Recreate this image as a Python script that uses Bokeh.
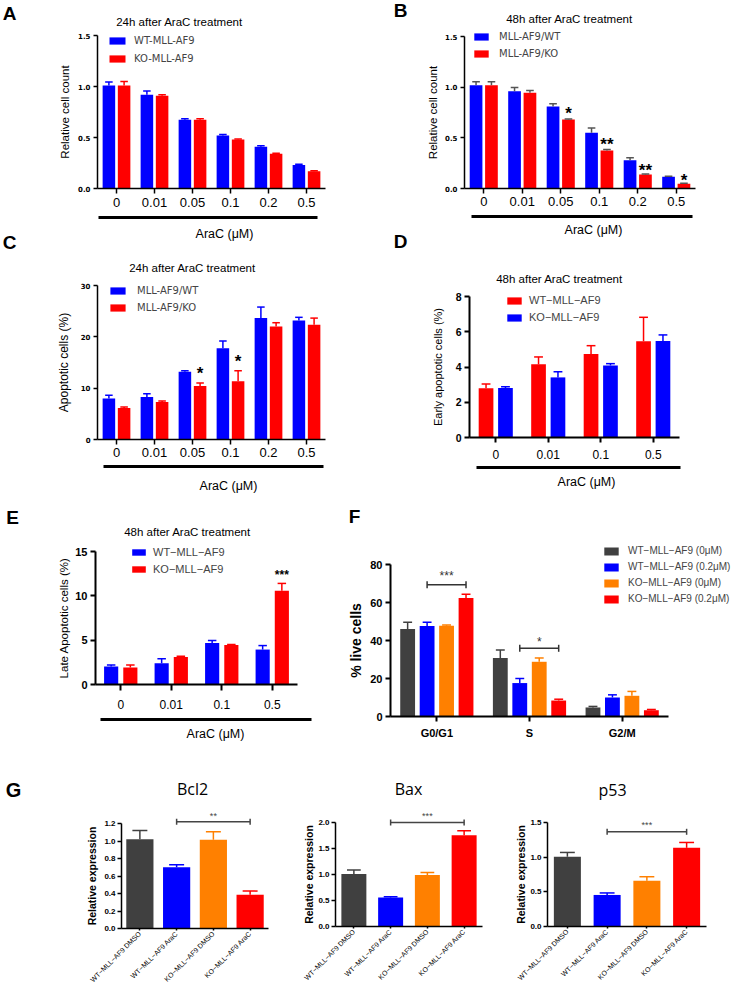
import math
from bokeh.plotting import figure
from bokeh.models import (Range1d, Label, Legend, LegendItem, BoxAnnotation, LinearAxis,
                          FixedTicker, ColumnDataSource, NumeralTickFormatter, Grid)
from bokeh.layouts import column, row
from bokeh.core.properties import value
from bokeh.embed import file_html
from bokeh.resources import INLINE

# ------------------------------------------------------------------ data
# A: 24 h after AraC, relative cell count
a_doses = ["0", "0.01", "0.05", "0.1", "0.2", "0.5"]
a_wt = [1.01, 0.92, 0.675, 0.52, 0.41, 0.23]
a_wt_err = [0.033, 0.036, 0.01, 0.01, 0.01, 0.008]
a_ko = [1.01, 0.91, 0.675, 0.48, 0.34, 0.17]
a_ko_err = [0.04, 0.008, 0.008, 0.005, 0.006, 0.005]
a_yticks = [0, 0.5, 1.0, 1.5]

# B: 48 h after AraC, relative cell count
b_doses = ["0", "0.01", "0.05", "0.1", "0.2", "0.5"]
b_wt = [1.02, 0.96, 0.81, 0.55, 0.28, 0.115]
b_wt_err = [0.033, 0.036, 0.026, 0.046, 0.023, 0.007]
b_ko = [1.02, 0.945, 0.68, 0.374, 0.138, 0.046]
b_ko_err = [0.033, 0.023, 0.007, 0.01, 0.006, 0.006]
b_sig_doses = ["0.05", "0.1", "0.2", "0.5"]
b_sig = ["*", "**", "**", "*"]
b_sig_y = [0.78, 0.475, 0.213, 0.12]
b_yticks = [0, 0.5, 1.0, 1.5]

# C: 24 h, apoptotic cells (%)
c_doses = ["0", "0.01", "0.05", "0.1", "0.2", "0.5"]
c_wt = [8.0, 8.3, 13.2, 17.8, 23.65, 23.2]
c_wt_err = [0.6, 0.6, 0.2, 1.4, 2.15, 0.6]
c_ko = [6.15, 7.3, 10.4, 11.35, 22.0, 22.35]
c_ko_err = [0.2, 0.2, 0.6, 2.05, 0.75, 1.3]
c_sig_doses = ["0.05", "0.1"]
c_sig = ["*", "*"]
c_sig_y = [13.5, 15.9]
c_yticks = [0, 10, 20, 30]

# D: 48 h, early apoptotic cells (%)
d_doses = ["0", "0.01", "0.1", "0.5"]
d_wt = [2.79, 4.15, 4.74, 5.46]
d_wt_err = [0.24, 0.42, 0.47, 1.36]
d_ko = [2.81, 3.41, 4.09, 5.48]
d_ko_err = [0.07, 0.32, 0.10, 0.34]
d_yticks = [0, 2, 4, 6, 8]

# E: 48 h, late apoptotic cells (%)
e_doses = ["0", "0.01", "0.1", "0.5"]
e_wt = [2.02, 2.4, 4.69, 3.94]
e_wt_err = [0.18, 0.5, 0.26, 0.45]
e_ko = [1.91, 3.11, 4.46, 10.57]
e_ko_err = [0.29, 0.09, 0.04, 0.83]
e_sig_doses = ["0.5"]
e_sig = ["***"]
e_sig_y = [12.6]
e_yticks = [0, 5, 10, 15]

# F: cell cycle, % live cells
f_phases = ["G0/G1", "S", "G2/M"]
f_wt0 = [46.1, 30.8, 4.75]
f_wt0_err = [3.5, 4.2, 0.55]
f_wt02 = [47.6, 17.6, 10.0]
f_wt02_err = [2.0, 2.4, 1.4]
f_ko0 = [47.8, 28.8, 10.9]
f_ko0_err = [0.4, 2.0, 2.3]
f_ko02 = [62.4, 8.4, 3.3]
f_ko02_err = [1.9, 0.7, 0.4]
f_br_phase = ["G0/G1", "S"]
f_br_y = [69.4, 35.9]
f_br_text = ["***", "*"]
f_br_text_y = [75.1, 40.4]
f_yticks = [0, 20, 40, 60, 80]

# G: relative expression
g_groups = ["WT\u2212MLL\u2212AF9 DMSO", "WT\u2212MLL\u2212AF9 AraC",
            "KO\u2212MLL\u2212AF9 DMSO", "KO\u2212MLL\u2212AF9 AraC"]
bcl2 = [1.02, 0.70, 1.015, 0.386]
bcl2_err = [0.10, 0.03, 0.09, 0.042]
bcl2_yticks = [0, 0.2, 0.4, 0.6, 0.8, 1.0, 1.2]
bcl2_br = (1, 3, 1.219, "**", 1.306)
bax = [1.01, 0.56, 0.99, 1.757]
bax_err = [0.077, 0.013, 0.05, 0.083]
bax_yticks = [0, 0.5, 1.0, 1.5, 2.0]
bax_br = (1, 3, 2.0, "***", 2.16)
p53 = [1.006, 0.455, 0.66, 1.135]
p53_err = [0.062, 0.029, 0.058, 0.077]
p53_yticks = [0, 0.5, 1.0, 1.5]
p53_br = (1, 3, 1.366, "***", 1.49)

# ------------------------------------------------------------------ style
ARIAL = "Liberation Sans"
WIDE = "DejaVu Sans"
BLUE = "#0000ff"
RED = "#ff0000"
GRAY = "#404040"
ORANGE = "#ff8000"
G_COLORS = [GRAY, BLUE, ORANGE, RED]


class Panel:
    """A figure whose frame fills the whole canvas; the plotting box (L,T,R,B) in page
    pixels is mapped to [-0.5, n-0.5] x [0, ymax] and axes are fixed at its edges."""

    def __init__(self, box, vf, cats, ymax):
        x0, y0, x1, y1 = box
        L, T, R, B = vf
        n = len(cats)
        sx = n / (R - L)
        sy = ymax / (B - T)
        self.box, self.cats, self.n, self.ymax = box, cats, n, ymax
        p = figure(width=x1 - x0, height=y1 - y0,
                   x_range=Range1d(-0.5 - (L - x0) * sx, n - 0.5 + (x1 - R) * sx),
                   y_range=Range1d(-(y1 - B) * sy, ymax + (T - y0) * sy),
                   x_axis_location=None, y_axis_location=None,
                   output_backend="svg", toolbar_location=None, min_border=0)
        p.outline_line_color = None
        p.background_fill_color = "white"
        p.border_fill_color = "white"
        for r in list(p.center):
            if isinstance(r, Grid):
                r.visible = False
                r.grid_line_color = None
        p.center = [r for r in p.center if not isinstance(r, Grid)]
        self.p = p

    # --- marks
    def bars(self, vals, errs, off, width, color, err_color=None, cap=0.6, lw=1.5, idx=None):
        idx = list(range(self.n)) if idx is None else idx
        xs = [i + off for i in idx]
        hw = width * cap / 2
        src = ColumnDataSource(dict(x=xs, v=vals, hi=[v + e for v, e in zip(vals, errs)],
                                    xl=[x - hw for x in xs], xr=[x + hw for x in xs]))
        r = self.p.vbar(x="x", top="v", width=width, source=src, fill_color=color, line_color=None)
        ec = err_color or color
        self.p.segment(x0="x", y0="v", x1="x", y1="hi", source=src, line_color=ec, line_width=lw)
        self.p.segment(x0="xl", y0="hi", x1="xr", y1="hi", source=src, line_color=ec, line_width=lw)
        return r

    def stars(self, cats, marks, ys, off, size, color="black", style="bold"):
        xs = [self.cats.index(c) + off for c in cats]
        src = ColumnDataSource(dict(x=xs, t=marks, y=ys))
        self.p.text(x="x", y="y", text="t", source=src, text_align="center",
                    text_baseline="middle", text_font=value(ARIAL), text_font_size=f"{size}px",
                    text_font_style=style, text_color=color, y_offset=0.22 * size)

    def bracket(self, cats0, off0, cats1, off1, ys, texts, tys, size, color, tick=7):
        x0 = [self.cats.index(c) + off0 for c in cats0]
        x1 = [self.cats.index(c) + off1 for c in cats1]
        src = ColumnDataSource(dict(x0=x0, x1=x1, y=ys, xm=[(a + b) / 2 for a, b in zip(x0, x1)],
                                    t=texts, ty=tys))
        p = self.p
        p.segment(x0="x0", y0="y", x1="x1", y1="y", source=src, line_color=color, line_width=1.5)
        for k in ("x0", "x1"):
            p.scatter(x=k, y="y", source=src, marker="dash", angle=math.pi / 2, size=tick,
                      line_color=color, line_width=1.5)
        p.text(x="xm", y="ty", text="t", source=src, text_align="center", text_baseline="middle",
               text_font=value(ARIAL), text_font_size=f"{size}px", text_color=color,
               y_offset=0.22 * size)

    # --- axes
    def axes(self, yticks, yfmt, ysize, ystyle, yfont, ylabel, lsize, lstyle, lstand, lw,
             xsize, xstyle, x_tick_out=5, x_standoff=4, orient=None, y_tick_out=4, y_standoff=3):
        ya = LinearAxis(fixed_location=-0.5, bounds=(0, self.ymax), ticker=FixedTicker(ticks=yticks))
        if yfmt:
            ya.formatter = NumeralTickFormatter(format=yfmt)
        ya.major_label_text_font_size = f"{ysize}px"
        ya.major_label_text_font_style = ystyle
        ya.major_label_text_font = yfont
        ya.major_label_text_color = "black"
        ya.major_label_standoff = y_standoff
        ya.major_tick_out = y_tick_out
        ya.major_tick_in = 0
        ya.minor_tick_line_color = None
        ya.axis_line_width = lw
        ya.major_tick_line_width = lw
        ya.axis_label = ylabel
        ya.axis_label_text_font = ARIAL
        ya.axis_label_text_font_size = f"{lsize}px"
        ya.axis_label_text_font_style = lstyle
        ya.axis_label_text_color = "black"
        ya.axis_label_standoff = lstand
        self.p.add_layout(ya, "left")

        xa = LinearAxis(fixed_location=0, bounds=(-0.5, self.n - 0.5),
                        ticker=FixedTicker(ticks=list(range(self.n))),
                        major_label_overrides={i: c for i, c in enumerate(self.cats)})
        xa.major_label_text_font_size = f"{xsize}px"
        xa.major_label_text_font_style = xstyle
        xa.major_label_text_font = ARIAL
        xa.major_label_text_color = "black"
        xa.major_tick_out = x_tick_out
        xa.major_tick_in = 0
        xa.minor_tick_line_color = None
        xa.axis_line_width = lw
        xa.major_tick_line_width = lw
        xa.major_label_standoff = x_standoff
        if orient is not None:
            xa.major_label_orientation = orient
        self.p.add_layout(xa, "below")

    # --- page-positioned texts and decorations
    def txt(self, px, py, text, size, style="normal", font=ARIAL, align="center", color="black"):
        x0, y0, x1, y1 = self.box
        self.p.add_layout(Label(x=px - x0, y=y1 - py, x_units="screen", y_units="screen",
                                text=text, text_font=font, text_font_size=f"{size}px",
                                text_font_style=style, text_align=align,
                                text_baseline="middle", text_color=color))

    def hline(self, xa, xb, y, thick=3):
        x0, y0, x1, y1 = self.box
        self.p.add_layout(BoxAnnotation(left=xa - x0, right=xb - x0,
                                        bottom=y1 - y - thick / 2, top=y1 - y + thick / 2,
                                        left_units="screen", right_units="screen",
                                        top_units="screen", bottom_units="screen",
                                        fill_color="black", fill_alpha=1.0, line_color=None,
                                        line_alpha=0))

    def legend(self, items, left, top, gw, gh, size, standoff, spacing, font):
        x0, y0, x1, y1 = self.box
        n = len(items)
        h = n * gh + (n - 1) * spacing
        leg = Legend(items=[LegendItem(label=l, renderers=[r]) for l, r in items],
                     location=(left - x0, (y1 - top) - h), glyph_width=gw, glyph_height=gh,
                     label_height=gh, label_width=10,
                     label_text_font_size=f"{size}px", label_text_font=font,
                     label_standoff=standoff, spacing=spacing, padding=0, margin=0,
                     border_line_color=None, background_fill_alpha=0)
        self.p.add_layout(leg)


# ------------------------------------------------------------------ A
A = Panel((0, 0, 372, 252), (97, 35, 325, 188), a_doses, 1.5)
rA1 = A.bars(a_wt, a_wt_err, -0.2, 0.33, BLUE)
rA2 = A.bars(a_ko, a_ko_err, 0.2, 0.33, RED)
A.axes(a_yticks, "0.0", 7, "bold", WIDE, "Relative cell count", 11.5, "normal", 4, 1.5,
       13, "normal", 5, 4)
A.legend([("WT-MLL-AF9", rA1), ("KO-MLL-AF9", rA2)], 107, 39, 20, 9, 10, 7, 7, WIDE)
A.txt(9, 13, "A", 19, "bold")
A.txt(179, 21, "24h after AraC treatment", 11.5)
A.hline(98, 317, 217)
A.txt(224, 233, "AraC (\u03bcM)", 12.5)
A.txt(9, 242, "C", 19, "bold")

# ------------------------------------------------------------------ B
Bp = Panel((372, 0, 744, 252), (464, 36, 695, 188), b_doses, 1.5)
rB1 = Bp.bars(b_wt, b_wt_err, -0.2, 0.33, BLUE, err_color="#555555")
rB2 = Bp.bars(b_ko, b_ko_err, 0.2, 0.33, RED, err_color="#555555")
Bp.stars(b_sig_doses, b_sig, b_sig_y, 0.2, 17)
Bp.axes(b_yticks, "0.0", 7, "bold", WIDE, "Relative cell count", 11.5, "normal", 3, 1.5,
        13, "normal", 5, 3)
Bp.legend([("MLL-AF9/WT", rB1), ("MLL-AF9/KO", rB2)], 472, 35, 18, 9, 10, 9, 6, WIDE)
Bp.txt(400, 10, "B", 19, "bold")
Bp.txt(569, 18, "48h after AraC treatment", 11.5)
Bp.hline(471, 692, 216)
Bp.txt(593, 229, "AraC (\u03bcM)", 12.5)
Bp.txt(400, 241, "D", 19, "bold")

# ------------------------------------------------------------------ C
C = Panel((0, 252, 372, 505), (97, 285, 325, 439), c_doses, 30)
rC1 = C.bars(c_wt, c_wt_err, -0.2, 0.33, BLUE)
rC2 = C.bars(c_ko, c_ko_err, 0.2, 0.33, RED)
C.stars(c_sig_doses, c_sig, c_sig_y, 0.2, 17)
C.axes(c_yticks, None, 7, "bold", WIDE, "Apoptotic cells (%)", 12, "normal", 7, 1.5,
       13, "normal", 5, 3)
C.legend([("MLL-AF9/WT", rC1), ("MLL-AF9/KO", rC2)], 108, 289, 19, 9, 10, 10, 6, WIDE)
C.txt(192, 267, "24h after AraC treatment", 11.5)
C.hline(103, 323, 466)
C.txt(228, 485, "AraC (\u03bcM)", 12.5)

# ------------------------------------------------------------------ D
D = Panel((372, 252, 744, 505), (469, 296, 679, 437), d_doses, 8)
rD1 = D.bars(d_wt, d_wt_err, -0.185, 0.28, RED)
rD2 = D.bars(d_ko, d_ko_err, 0.185, 0.28, BLUE)
D.axes(d_yticks, None, 10.5, "bold", ARIAL, "Early apoptotic cells (%)", 11, "normal", 9, 2,
       12, "normal", 5, 7, y_tick_out=5)
D.legend([("WT\u2212MLL\u2212AF9", rD1), ("KO\u2212MLL\u2212AF9", rD2)],
         505, 300, 18, 9, 11, 6, 5, ARIAL)
D.txt(559, 278, "48h after AraC treatment", 11.5)
D.hline(476, 680, 467)
D.txt(586, 481, "AraC (\u03bcM)", 12.5)

# ------------------------------------------------------------------ E
E = Panel((0, 505, 338, 760), (95, 551, 297, 684), e_doses, 15)
rE1 = E.bars(e_wt, e_wt_err, -0.19, 0.28, BLUE)
rE2 = E.bars(e_ko, e_ko_err, 0.19, 0.28, RED)
E.stars(e_sig_doses, e_sig, e_sig_y, 0.19, 12)
E.axes(e_yticks, None, 11, "bold", ARIAL, "Late Apoptotic cells (%)", 11.5, "normal", 2, 2,
       12, "normal", 6, 9, y_tick_out=5)
E.legend([("WT\u2212MLL\u2212AF9", rE1), ("KO\u2212MLL\u2212AF9", rE2)],
         130, 554, 17, 8, 11, 6, 5, ARIAL)
E.txt(12, 517, "E", 19, "bold")
E.txt(187, 531, "48h after AraC treatment", 11.5)
E.hline(100, 311, 719)
E.txt(215, 733, "AraC (\u03bcM)", 12.5)

# ------------------------------------------------------------------ F
F = Panel((338, 505, 744, 760), (390, 564, 668, 716), f_phases, 80)
rF1 = F.bars(f_wt0, f_wt0_err, -0.315, 0.16, GRAY)
rF2 = F.bars(f_wt02, f_wt02_err, -0.105, 0.16, BLUE)
rF3 = F.bars(f_ko0, f_ko0_err, 0.105, 0.16, ORANGE)
rF4 = F.bars(f_ko02, f_ko02_err, 0.315, 0.16, RED)
F.bracket(f_br_phase, -0.105, f_br_phase, 0.315, f_br_y, f_br_text, f_br_text_y, 12, "#333333")
F.axes(f_yticks, None, 11, "bold", ARIAL, "% live cells", 14, "bold", 3, 2,
       11, "bold", 5, 5, y_tick_out=5)
F.legend([("WT\u2212MLL\u2212AF9 (0\u03bcM)", rF1), ("WT\u2212MLL\u2212AF9 (0.2\u03bcM)", rF2),
          ("KO\u2212MLL\u2212AF9 (0\u03bcM)", rF3), ("KO\u2212MLL\u2212AF9 (0.2\u03bcM)", rF4)],
         602, 549, 18, 10, 10, 8, 5, ARIAL)
F.txt(354, 516, "F", 19, "bold")


# ------------------------------------------------------------------ G
def g_panel(box, vf, vals, errs, ymax, yticks, br, title, title_xy, width, lstand):
    g = Panel(box, vf, g_groups, ymax)
    for i, c in enumerate(G_COLORS):
        g.bars([vals[i]], [errs[i]], 0, width, c, cap=0.55, idx=[i])
    i0, i1, by, bt, bty = br
    g.bracket([g_groups[i0]], 0, [g_groups[i1]], 0, [by], [bt], [bty], 9, "#444444", tick=6)
    g.axes(yticks, "0.0", 8, "bold", ARIAL, "Relative expression", 10.5, "bold", lstand, 1.5,
           7, "normal", 2, 2, orient=math.pi / 4, y_standoff=2)
    g.txt(title_xy[0], title_xy[1], title, 16, font="Open Sans")
    return g


G1 = g_panel((0, 760, 272, 990), (121, 823, 268, 928), bcl2, bcl2_err, 1.2, bcl2_yticks,
             bcl2_br, "Bcl2", (192, 788), 0.74, 3)
G1.txt(13, 789, "G", 20, "bold")
G2 = g_panel((272, 760, 500, 990), (335, 822, 482, 926), bax, bax_err, 2.0, bax_yticks,
             bax_br, "Bax", (408, 788), 0.68, 0)
G3 = g_panel((500, 760, 744, 990), (547, 822, 706, 926), p53, p53_err, 1.5, p53_yticks,
             p53_br, "p53", (612, 789), 0.68, 0)

layout = column(row(A.p, Bp.p), row(C.p, D.p), row(E.p, F.p), row(G1.p, G2.p, G3.p))
open("out.html", "w").write(file_html(layout, INLINE))
